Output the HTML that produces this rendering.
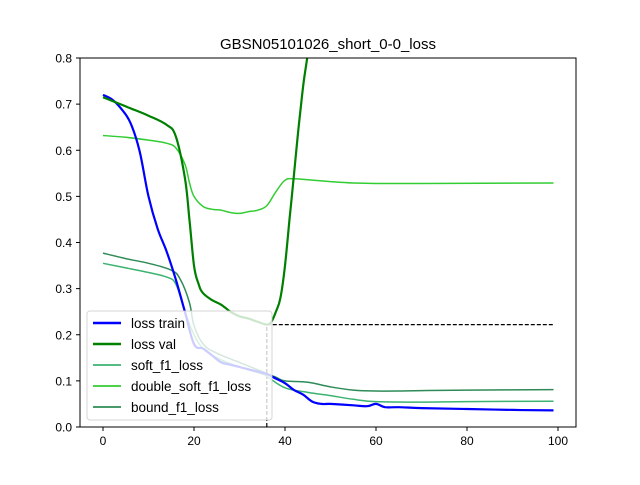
<!DOCTYPE html>
<html><head><meta charset="utf-8"><style>
body{margin:0;background:#fff;font-family:"Liberation Sans","DejaVu Sans",sans-serif}
</style></head><body>
<svg id="chart" width="640" height="480" xmlns="http://www.w3.org/2000/svg">
<defs><clipPath id="plotclip"><rect x="80" y="58" width="496" height="369"/></clipPath></defs>
<rect width="640" height="480" fill="#fff"/>
<text x="328" y="49" text-anchor="middle" font-size="15">GBSN05101026_short_0-0_loss</text>
<g id="series" clip-path="url(#plotclip)"></g>
<g id="axes"></g>
<g id="legend"></g>
</svg>
<script>
const trainX=[0,2,4,6,8,10,12,14,16,18,20,22,24,26,28,30,32,34,36,38,40,42,44,46,48,50,55,58,60,62,65,70,80,90,99];
const trainY=[0.72,0.71,0.69,0.66,0.6,0.5,0.43,0.38,0.32,0.25,0.18,0.17,0.155,0.14,0.135,0.13,0.125,0.12,0.115,0.105,0.095,0.08,0.07,0.055,0.05,0.05,0.047,0.045,0.05,0.043,0.043,0.041,0.039,0.037,0.036];
const valX=[0,5,10,14,16,18,19,20,21,22,24,26,28,30,32,34,36,37,38,39,40,41,42,43,44,45,46];
const valY=[0.715,0.695,0.675,0.655,0.63,0.54,0.45,0.35,0.31,0.29,0.275,0.265,0.25,0.24,0.235,0.228,0.222,0.228,0.25,0.28,0.35,0.45,0.55,0.65,0.74,0.81,0.9];
const dblX=[0,5,10,14,16,18,19,20,22,24,26,28,30,32,34,36,38,40,42,45,50,55,60,70,99];
const dblY=[0.632,0.628,0.622,0.615,0.605,0.57,0.53,0.5,0.478,0.472,0.47,0.465,0.463,0.467,0.47,0.48,0.51,0.535,0.538,0.536,0.532,0.529,0.528,0.528,0.529];
const softX=[0,5,10,14,16,18,20,22,25,30,35,36,40,45,50,55,60,70,80,99];
const softY=[0.355,0.345,0.335,0.325,0.31,0.25,0.2,0.17,0.15,0.13,0.115,0.11,0.085,0.075,0.068,0.06,0.055,0.054,0.055,0.056];
const boundX=[0,5,10,15,17,19,20,22,25,30,35,38,40,45,50,55,60,65,70,80,99];
const boundY=[0.377,0.365,0.355,0.34,0.32,0.27,0.22,0.18,0.16,0.14,0.12,0.108,0.1,0.097,0.087,0.08,0.078,0.078,0.079,0.08,0.081];
const bestEpoch=36, bestVal=0.222;
const xTicks=[0,20,40,60,80,100];
const yTicks=[0,0.1,0.2,0.3,0.4,0.5,0.6,0.7,0.8];
const NS="http://www.w3.org/2000/svg";
const sx=v=>103+v*4.55, sy=v=>427-v*461.25;
function mk(tag,attrs,parent){const e=document.createElementNS(NS,tag);for(const k in attrs)e.setAttribute(k,attrs[k]);parent.appendChild(e);return e;}
const S=document.getElementById('series'),A=document.getElementById('axes'),L=document.getElementById('legend');
function path(xs,ys){
 const P=xs.map((x,i)=>[sx(x),sy(ys[i])]);
 let d='M'+P[0][0].toFixed(1)+','+P[0][1].toFixed(1);
 for(let i=0;i<P.length-1;i++){
  const p0=P[Math.max(0,i-1)],p1=P[i],p2=P[i+1],p3=P[Math.min(P.length-1,i+2)];
  const t=0.18;
  const c1=[p1[0]+(p2[0]-p0[0])*t,p1[1]+(p2[1]-p0[1])*t];
  const c2=[p2[0]-(p3[0]-p1[0])*t,p2[1]-(p3[1]-p1[1])*t];
  d+='C'+c1[0].toFixed(1)+','+c1[1].toFixed(1)+' '+c2[0].toFixed(1)+','+c2[1].toFixed(1)+' '+p2[0].toFixed(1)+','+p2[1].toFixed(1);
 }
 return d;}
let h=mk('line',{x1:sx(bestEpoch),x2:sx(99),y1:sy(bestVal),y2:sy(bestVal),stroke:'#000','stroke-width':1.2,'stroke-dasharray':'4,2'},S);


let v=mk('line',{x1:sx(bestEpoch),x2:sx(bestEpoch),y1:sy(0),y2:sy(bestVal),stroke:'#000','stroke-width':1.2,'stroke-dasharray':'4,2'},S);


const series=[
 [softX,softY,'#3cb371',1.5,'soft_f1_loss','soft-f1-line'],
 [dblX,dblY,'#32cd32',1.5,'double_soft_f1_loss','double-soft-f1-line'],
 [boundX,boundY,'#2e8b57',1.5,'bound_f1_loss','bound-f1-line'],
 [trainX,trainY,'#0000ff',2.2,'loss train','loss-train-line'],
 [valX,valY,'#008000',2.2,'loss val','loss-val-line']];
series.forEach(s=>{const p=mk('path',{d:path(s[0],s[1]),fill:'none',stroke:s[2],'stroke-width':s[3],'stroke-linejoin':'round'},S);

});
const fr=mk('rect',{x:80,y:58,width:496,height:369,fill:'none',stroke:'#000','stroke-width':1},A);


xTicks.forEach(t=>{mk('line',{x1:sx(t),x2:sx(t),y1:427,y2:431,stroke:'#000'},A);
const tx=mk('text',{x:sx(t),y:445,'text-anchor':'middle','font-size':12},A);tx.textContent=t;

});
yTicks.forEach(t=>{mk('line',{x1:76,x2:80,y1:sy(t),y2:sy(t),stroke:'#000'},A);
const tx=mk('text',{x:72,y:sy(t)+4.5,'text-anchor':'end','font-size':12},A);tx.textContent=t.toFixed(1);

});
const lb=mk('rect',{x:87,y:311,width:185,height:109,rx:3,fill:'#fff','fill-opacity':0.8,stroke:'#ccc','stroke-opacity':0.8},L);


const order=[3,4,0,1,2], ly=[323,344,365,386,407];
order.forEach((si,i)=>{const s=series[si];
mk('line',{x1:93,x2:121,y1:ly[i],y2:ly[i],stroke:s[2],'stroke-width':s[3]+0.3},L);
const t=mk('text',{x:131,y:ly[i]+5,'font-size':13.5},L);t.textContent=s[4];

});
</script>
</body></html>
